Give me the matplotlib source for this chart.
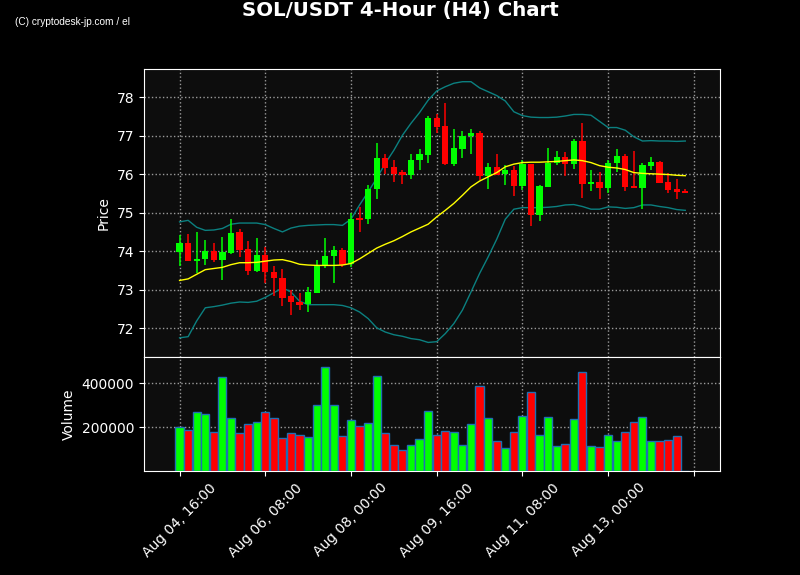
"""
SOL/USDT 4-hour candlestick chart with Bollinger bands and volume.
"""

import matplotlib
matplotlib.use('Agg')
import matplotlib.pyplot as plt
import numpy as np

fix = 8
fiy = 5.75

# candle data (4h candles from Aug 04, 16:00)
opens = [73.98, 74.20, 73.74, 73.80, 74.00, 73.77, 73.95, 74.49, 74.05, 73.48,
         73.89, 73.47, 73.31, 72.83, 72.68, 72.62, 72.91, 73.63, 73.87, 74.02,
         73.67, 74.86, 74.83, 75.61, 76.41, 76.18, 76.06, 75.99, 76.37, 76.50,
         77.45, 77.24, 76.26, 76.65, 76.99, 77.06, 75.95, 76.19, 76.01, 76.10,
         75.69, 76.26, 74.94, 75.67, 76.29, 76.44, 76.26, 76.85, 75.74, 75.79,
         75.64, 76.28, 76.46, 75.68, 75.64, 76.21, 76.31, 75.79, 75.61, 75.56]
closes = [74.20, 73.74, 73.79, 74.00, 73.77, 73.97, 74.46, 74.03, 73.48, 73.89,
          73.46, 73.30, 72.78, 72.69, 72.59, 72.93, 73.62, 73.88, 74.02, 73.65,
          74.84, 74.81, 75.61, 76.41, 76.16, 76.00, 75.98, 76.38, 76.52, 77.45,
          77.23, 76.27, 76.67, 77.00, 77.06, 75.95, 76.19, 75.98, 76.11, 75.69,
          76.26, 74.93, 75.68, 76.29, 76.44, 76.26, 76.85, 75.74, 75.79, 75.64,
          76.28, 76.46, 75.66, 75.64, 76.23, 76.31, 75.77, 75.59, 75.53, 75.51]
highs = [74.41, 74.45, 74.50, 74.30, 74.22, 74.38, 74.84, 74.58, 74.26, 74.35,
         74.11, 73.61, 73.53, 73.00, 72.92, 73.07, 73.76, 74.35, 74.13, 74.09,
         74.99, 75.15, 75.73, 76.82, 76.51, 76.36, 76.12, 76.51, 76.66, 77.51,
         77.57, 77.86, 77.18, 77.13, 77.18, 77.12, 76.30, 76.51, 76.25, 76.22,
         76.36, 76.26, 75.73, 76.69, 76.60, 76.58, 76.91, 77.34, 76.12, 76.05,
         76.38, 76.64, 76.51, 76.61, 76.30, 76.44, 76.33, 76.02, 75.88, 75.61]
lows = [73.61, 73.74, 73.43, 73.63, 73.72, 73.26, 73.93, 73.85, 73.39, 73.46,
        73.17, 72.84, 72.57, 72.35, 72.48, 72.42, 72.91, 73.56, 73.18, 73.59,
        73.59, 74.51, 74.71, 75.36, 76.00, 75.79, 75.74, 75.88, 76.10, 76.30,
        77.07, 76.23, 76.21, 76.43, 76.53, 75.84, 75.61, 75.98, 75.73, 75.42,
        75.60, 74.65, 74.79, 75.67, 76.25, 75.96, 76.14, 75.38, 75.57, 75.36,
        75.51, 76.06, 75.57, 75.64, 75.10, 76.10, 75.77, 75.52, 75.36, 75.51]
volumes = [200000, 186000, 271000, 259000, 177000, 427000, 241000, 173000, 214000, 223000,
           268000, 241000, 150000, 173000, 164000, 154000, 300000, 473000, 300000, 161000,
           232000, 206000, 218000, 432000, 173000, 118000, 95000, 118000, 145000, 273000,
           164000, 182000, 177000, 118000, 214000, 386000, 241000, 136000, 104000, 177000,
           250000, 359000, 164000, 245000, 114000, 123000, 236000, 450000, 114000, 109000,
           164000, 136000, 177000, 223000, 245000, 136000, 136000, 141000, 159000, 1000]

# 20-period SMA and Bollinger bands
sma = [73.24, 73.28, 73.40, 73.52, 73.55, 73.58, 73.65, 73.70, 73.70, 73.71,
       73.74, 73.77, 73.78, 73.73, 73.66, 73.64, 73.63, 73.63, 73.63, 73.64,
       73.68, 73.80, 73.94, 74.08, 74.18, 74.27, 74.38, 74.50, 74.60, 74.70,
       74.89, 75.06, 75.24, 75.45, 75.67, 75.82, 75.93, 76.04, 76.19, 76.26,
       76.30, 76.31, 76.31, 76.32, 76.33, 76.35, 76.37, 76.35, 76.30, 76.22,
       76.18, 76.16, 76.12, 76.04, 76.02, 76.01, 76.00, 75.99, 75.97, 75.96]
upper = [74.76, 74.80, 74.62, 74.54, 74.55, 74.59, 74.70, 74.73, 74.73, 74.73,
         74.69, 74.59, 74.50, 74.60, 74.65, 74.67, 74.68, 74.69, 74.69, 74.67,
         74.83, 75.20, 75.54, 75.89, 76.28, 76.62, 77.01, 77.32, 77.60, 77.92,
         78.16, 78.27, 78.36, 78.40, 78.40, 78.24, 78.14, 78.04, 77.90, 77.62,
         77.52, 77.48, 77.47, 77.47, 77.48, 77.51, 77.55, 77.55, 77.53, 77.37,
         77.21, 77.21, 77.14, 76.97, 76.86, 76.87, 76.86, 76.86, 76.85, 76.86]
lower = [71.75, 71.78, 72.19, 72.53, 72.56, 72.60, 72.65, 72.68, 72.67, 72.70,
         72.80, 72.92, 73.05, 72.94, 72.70, 72.61, 72.61, 72.61, 72.61, 72.59,
         72.53, 72.42, 72.25, 72.01, 71.90, 71.83, 71.79, 71.73, 71.70, 71.63,
         71.65, 71.86, 72.12, 72.47, 72.94, 73.42, 73.85, 74.31, 74.83, 75.09,
         75.13, 75.13, 75.13, 75.14, 75.16, 75.20, 75.21, 75.16, 75.09, 75.09,
         75.15, 75.14, 75.11, 75.13, 75.20, 75.20, 75.16, 75.13, 75.08, 75.06]

tick_pos = [0, 10, 20, 30, 40, 50, 60]
tick_labels = ['Aug 04, 16:00', 'Aug 06, 08:00', 'Aug 08, 00:00', 'Aug 09, 16:00',
               'Aug 11, 08:00', 'Aug 13, 00:00', '']

up_col = '#00ff00'
dn_col = '#ff0000'
bg = '#0d0d0d'

o = np.array(opens)
c = np.array(closes)
x = np.arange(len(o))
cols = [up_col if c[i] >= o[i] else dn_col for i in range(len(o))]

fig = plt.figure(figsize=(fix, fiy), dpi=100, facecolor='black')
ax1 = fig.add_axes([0.18, 0.379, 0.72, 0.501])
ax2 = fig.add_axes([0.18, 0.181, 0.72, 0.198], sharex=ax1)

# candles
ax1.vlines(x, lows, highs, colors=cols, lw=1.1, zorder=3)
body = np.maximum(np.abs(c - o), 0.02)
ax1.bar(x, body, bottom=np.minimum(o, c), width=0.72, color=cols, zorder=4)
ax1.plot(x, upper, color='#0b8080', lw=1, zorder=2)
ax1.plot(x, lower, color='#0b8080', lw=1, zorder=2)
ax1.plot(x, sma, color='yellow', lw=1, zorder=5)
ax1.set_ylim(71.25, 78.73)
ax1.set_yticks([72, 73, 74, 75, 76, 77, 78])
ax1.set_ylabel('Price', color='white', fontsize=10)

# volume
ax2.bar(x, volumes, width=0.95, color=cols, edgecolor='#1f6fb4', lw=1, zorder=3)
ax2.set_ylim(0, max(volumes) * 1.1)
ax2.set_yticks([200000, 400000])
ax2.set_yticklabels(['200000', '400000'])
ax2.set_ylabel('Volume', color='white', fontsize=10)

ax2.set_xlim(-4.15, 63.05)
ax2.set_xticks(tick_pos)
ax2.set_xticklabels(tick_labels, rotation=45, ha='center')
plt.setp(ax1.get_xticklabels(), visible=False)

for ax in [ax1, ax2]:
    ax.set_facecolor(bg)
    ax.grid(True, ls=':', color='#9a9a9a', lw=1, zorder=0)
    ax.set_axisbelow(True)
    ax.tick_params(colors='white', labelsize=10)
    for s in ax.spines.values():
        s.set_color('white')

fig.text(0.5, 0.981, 'SOL/USDT 4-Hour (H4) Chart', color='white', fontsize=14.2,
         fontweight='bold', ha='center', va='center')
fig.text(0.019, 0.962, '(C) cryptodesk-jp.com / el', color='white', fontsize=7.3,
         family='Liberation Sans', ha='left', va='center')

plt.savefig('out.png', dpi=100, facecolor='black')
plt.close(fig)
